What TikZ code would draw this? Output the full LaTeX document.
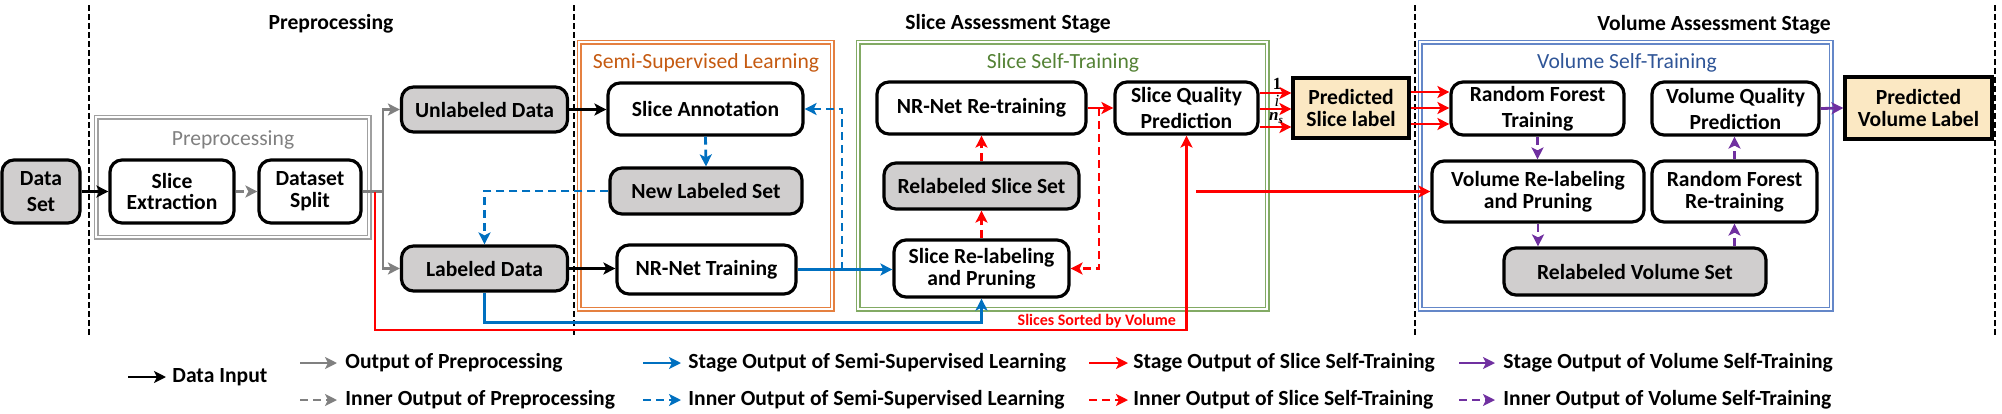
\documentclass[tikz,border=0pt]{standalone}
\usepackage{fontspec}
\setmainfont{Carlito}
\newfontfamily\seriffont{Liberation Serif}
\usetikzlibrary{arrows.meta,calc}
\definecolor{boxgray}{RGB}{208,206,206}
\definecolor{ptan}{RGB}{251,232,195}
\definecolor{ogray}{RGB}{128,128,128}
\definecolor{lgray}{RGB}{160,160,160}
\definecolor{oorange}{RGB}{229,128,64}
\definecolor{dorange}{RGB}{197,90,17}
\definecolor{ogreen}{RGB}{130,170,100}
\definecolor{dgreen}{RGB}{84,130,53}
\definecolor{oblue}{RGB}{100,135,200}
\definecolor{dblue}{RGB}{47,85,151}
\definecolor{ablue}{RGB}{0,112,192}
\definecolor{ared}{RGB}{255,0,0}
\definecolor{apurple}{RGB}{112,48,160}
\begin{document}
\begin{tikzpicture}[x=0.5pt,y=-0.5pt,
  font=\fontsize{10.8}{10.9}\selectfont\bfseries,
  sz/.style 2 args={minimum width=#1*0.5pt, minimum height=#2*0.5pt},
  proc/.style={draw=black, line width=1.6pt, rounded corners=6pt, fill=white, align=center, inner sep=0pt},
  procg/.style={proc, fill=boxgray},
  outbox/.style={draw=black, line width=1.6pt, fill=ptan, align=center, inner sep=0pt},
  roomy/.style={font=\fontsize{10.8}{13}\selectfont\bfseries},
  grp/.style={line width=0.8pt, double=white, double distance=0.9pt},
  ttl/.style={font=\fontsize{10.8}{12}\selectfont},
  arr/.style={line width=1.4pt, -{Stealth[length=6pt,width=6pt,inset=1.5pt]}},
  dsh/.style={dash pattern=on 4pt off 2.5pt},
  blkarr/.style={arr, draw=black},
  grayarr/.style={arr, draw=ogray},
  graydash/.style={arr, dsh, draw=ogray},
  bluearr/.style={arr, draw=ablue},
  bluedash/.style={arr, dsh, draw=ablue},
  redarr/.style={arr, draw=ared},
  reddash/.style={arr, dsh, draw=ared},
  purparr/.style={arr, draw=apurple},
  purpdash/.style={arr, dsh, draw=apurple},
  vdash/.style={draw=black, line width=1pt, dash pattern=on 3pt off 1.5pt},
  legtext/.style={anchor=west, inner sep=0pt}
]
\useasboundingbox (0,0) rectangle (2002,413);

% stage separators
\draw[vdash] (89,5) -- (89,336);
\draw[vdash] (574,5) -- (574,336);
\draw[vdash] (1415,5) -- (1415,336);
\draw[vdash] (1995,5) -- (1995,336);

% stage headings
\node (hpre) at (331,24) {Preprocessing};
\node (hslice) at (1008,24) {Slice Assessment Stage};
\node (hvol) at (1714,25) {Volume Assessment Stage};

% group boxes
\draw[grp, draw=lgray] (96,117) rectangle (369,237);
\draw[grp, draw=oorange] (579,42) rectangle (832,309);
\draw[grp, draw=ogreen] (858,42) rectangle (1267,309);
\draw[grp, draw=oblue] (1420,42) rectangle (1831,309);
\node[ttl, text=ogray] (tpre) at (233,140) {Preprocessing};
\node[ttl, text=dorange] (tssl) at (706,63) {Semi-Supervised Learning};
\node[ttl, text=dgreen] (tsst) at (1063,63) {Slice Self-Training};
\node[ttl, text=dblue] (tvst) at (1627,63) {Volume Self-Training};

% nodes
\node[procg, roomy, sz={78}{63}] (dataset) at (41,191.5) {Data\\Set};
\node[proc, sz={124}{63}] (sliceext) at (172,191.5) {Slice\\Extraction};
\node[proc, sz={102}{63}] (dsplit) at (310,191.5) {Dataset\\Split};
\node[procg, sz={166}{45}] (unlabeled) at (484.5,109.5) {Unlabeled Data};
\node[procg, sz={166}{45}] (labeled) at (484.5,268.5) {Labeled Data};
\node[proc, sz={195}{52}] (sliceann) at (705.5,109) {Slice Annotation};
\node[procg, sz={192}{46}] (newlab) at (706,191) {New Labeled Set};
\node[proc, sz={179}{49}] (nrtrain) at (706.5,269.5) {NR-Net Training};
\node[proc, sz={209}{52}] (nrretrain) at (981.5,108) {NR-Net Re-training};
\node[procg, sz={195}{46}] (relslice) at (981.5,186) {Relabeled Slice Set};
\node[proc, sz={175}{57}] (slicerel) at (981.5,268.5) {Slice Re-labeling\\and Pruning};
\node[proc, roomy, sz={143}{52}] (sqp) at (1186.5,108) {Slice Quality\\Prediction};
\node[outbox, sz={116}{60}] (psl) at (1351,108) {Predicted\\Slice label};
\node[proc, roomy, sz={173}{53}] (rft) at (1537.5,108.5) {Random Forest\\Training};
\node[proc, roomy, sz={167}{53}] (vqp) at (1735.5,108.5) {Volume Quality\\Prediction};
\node[proc, sz={212}{61}] (vrp) at (1538,191.5) {Volume Re-labeling\\and Pruning};
\node[proc, sz={165}{61}] (rfr) at (1734.5,191.5) {Random Forest\\Re-training};
\node[procg, sz={262}{47}] (rvs) at (1635,271.5) {Relabeled Volume Set};
\node[outbox, sz={147}{62}] (pvl) at (1918.5,108) {Predicted\\Volume Label};

% helper coordinates
\coordinate (gsplit) at (383,191.5);
\coordinate (rstart) at (375,191.5);
\coordinate (rbottom) at (375,330);
\coordinate (bturn) at (842,269.5);
\coordinate (rturn) at (1099,108);
\coordinate (rvstart) at (1196,191.5);
\coordinate (ya) at (0,93);
\coordinate (yb) at (0,109);
\coordinate (yc) at (0,127);
\coordinate (yd) at (0,92);
\coordinate (ye) at (0,108);
\coordinate (yf) at (0,124);

% black data inputs
\draw[blkarr] (dataset.east) -- (sliceext.west);
\draw[blkarr] (unlabeled.east) -- (unlabeled.east -| sliceann.west);
\draw[blkarr] (labeled.east) -- (labeled.east -| nrtrain.west);

% preprocessing
\draw[graydash] (sliceext.east) -- (dsplit.west);
\draw[grayarr] (dsplit.east) -- (gsplit) |- (unlabeled.west);
\draw[grayarr] (gsplit) |- (labeled.west);

% red long line
\draw[redarr] (rstart) -- (rbottom) -| (sqp.south);
\node[text=ared, font=\fontsize{8}{9}\selectfont\bfseries, anchor=east] (sorted) at (1183,321) {Slices Sorted by Volume};

% semi-supervised learning
\draw[bluedash] (sliceann.south) -- (newlab.north);
\draw[bluedash] (newlab.west) -| (labeled.north);
\draw[bluearr] (nrtrain.east) -- (slicerel.west |- nrtrain.east);
\draw[bluedash] (bturn) |- (sliceann.east);
\draw[bluearr] (labeled.south) -- ++(0,30) -| (slicerel.south);

% slice self-training
\draw[reddash] (slicerel.north) -- (relslice.south);
\draw[reddash] (relslice.north) -- (nrretrain.south);
\draw[redarr] (nrretrain.east) -- (sqp.west);
\draw[reddash] (rturn) |- (slicerel.east);
\draw[redarr] (sqp.east |- ya) -- (psl.west |- ya);
\draw[redarr] (sqp.east |- yb) -- (psl.west |- yb);
\draw[redarr] (sqp.east |- yc) -- (psl.west |- yc);
\node[font=\fontsize{8.5}{9}\seriffont\bfseries] (l1) at (1277,84) {1};
\node[font=\fontsize{8.5}{9}\seriffont\itshape] (li) at (1277,101) {i};
\node[font=\fontsize{8.5}{9}\seriffont\bfseries\itshape] (ln) at (1276,118) {n\raisebox{-0.4ex}{\fontsize{5.5}{6}\selectfont s}};

% volume self-training
\draw[redarr] (psl.east |- yd) -- (rft.west |- yd);
\draw[redarr] (psl.east |- ye) -- (rft.west |- ye);
\draw[redarr] (psl.east |- yf) -- (rft.west |- yf);
\draw[redarr] (rvstart) -- (vrp.west);
\draw[purpdash] (rft.south) -- (rft.south |- vrp.north);
\draw[purpdash] (vrp.south) -- (vrp.south |- rvs.north);
\draw[purpdash] (rfr.south |- rvs.north) -- (rfr.south);
\draw[purpdash] (rfr.north) -- (rfr.north |- vqp.south);
\draw[purparr] (vqp.east) -- (pvl.west);

% legend
\node[legtext] (lg0) at (172,377) {Data Input};
\node[legtext] (lg1) at (345,363) {Output of Preprocessing};
\node[legtext] (lg2) at (345,400) {Inner Output of Preprocessing};
\node[legtext] (lg3) at (688,363) {Stage Output of Semi-Supervised Learning};
\node[legtext] (lg4) at (688,400) {Inner Output of Semi-Supervised Learning};
\node[legtext] (lg5) at (1133,363) {Stage Output of Slice Self-Training};
\node[legtext] (lg6) at (1133,400) {Inner Output of Slice Self-Training};
\node[legtext] (lg7) at (1503,363) {Stage Output of Volume Self-Training};
\node[legtext] (lg8) at (1503,400) {Inner Output of Volume Self-Training};
\draw[blkarr] ($(lg0.west)+(-44,0)$) -- ($(lg0.west)+(-6,0)$);
\draw[grayarr] ($(lg1.west)+(-45,0)$) -- ($(lg1.west)+(-8,0)$);
\draw[graydash] ($(lg2.west)+(-45,0)$) -- ($(lg2.west)+(-8,0)$);
\draw[bluearr] ($(lg3.west)+(-45,0)$) -- ($(lg3.west)+(-7,0)$);
\draw[bluedash] ($(lg4.west)+(-45,0)$) -- ($(lg4.west)+(-7,0)$);
\draw[redarr] ($(lg5.west)+(-44,0)$) -- ($(lg5.west)+(-5,0)$);
\draw[reddash] ($(lg6.west)+(-44,0)$) -- ($(lg6.west)+(-5,0)$);
\draw[purparr] ($(lg7.west)+(-44,0)$) -- ($(lg7.west)+(-8,0)$);
\draw[purpdash] ($(lg8.west)+(-44,0)$) -- ($(lg8.west)+(-8,0)$);
\end{tikzpicture}
\end{document}
